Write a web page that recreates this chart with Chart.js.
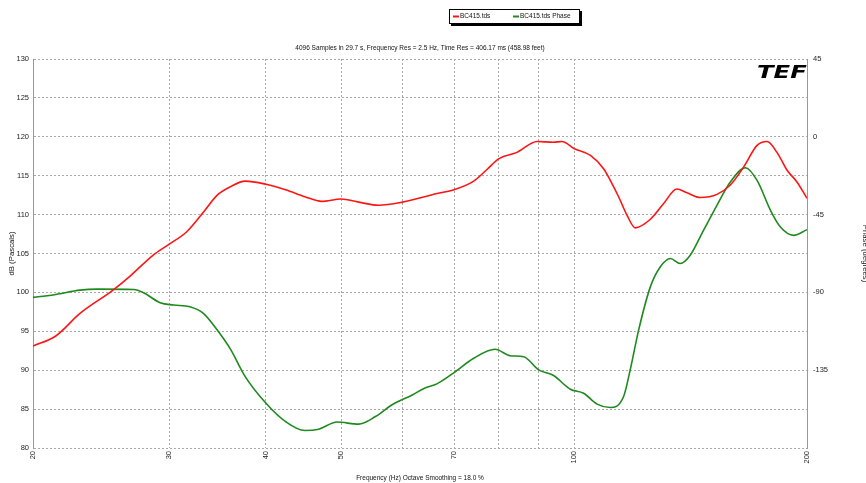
<!DOCTYPE html>
<html>
<head>
<meta charset="utf-8">
<script src="https://cdn.jsdelivr.net/npm/chart.js@4.4.0/dist/chart.umd.min.js"></script>
<style>
    html, body { margin: 0; padding: 0; background: #fff; }
    #wrap { position: relative; width: 866px; height: 483px; }
</style>
</head>
<body>
<div id="wrap"><canvas id="tefChart"></canvas></div>
<script>
// magnitude curve (Hz, dB)
const magFreqs = [20, 21.4, 23, 25.3, 26.7, 28.6, 30, 31.6, 33.2, 34.6,
    36, 37.6, 40, 42.4, 44.9, 47.2, 50, 52.7, 55.9, 60,
    64.1, 66.5, 70, 74.2, 77.2, 80, 84.4, 89.6, 94.1, 96.5,
    100, 105, 109.2, 111.4, 114.3, 117.1, 120, 125.5, 130.5, 135.8,
    140, 145.6, 153, 159.2, 165.6, 172.4, 177.6, 182.9, 188.5, 194.1, 200];
const magDb = [93.1, 94.4, 97.3, 100.2, 102.1, 104.8, 106.2, 107.8, 110.3, 112.5,
    113.6, 114.3, 113.9, 113.2, 112.3, 111.7, 112.0, 111.6, 111.2, 111.6,
    112.3, 112.7, 113.2, 114.3, 115.8, 117.2, 118.0, 119.4, 119.3, 119.4,
    118.5, 117.6, 115.9, 114.4, 112.2, 109.9, 108.3, 109.4, 111.4, 113.3,
    112.8, 112.2, 112.6, 113.8, 116.1, 118.9, 119.4, 118.0, 115.7, 114.2, 112.1];

// phase curve (Hz, degrees)
const phaseFreqs = [20, 21.4, 23, 24.2, 27, 27.8, 29.2, 30.4, 31.9, 33.2,
    34.6, 36, 37.6, 40, 42.4, 44.9, 46.8, 49.4, 52.7, 55.4,
    58.2, 61.8, 64.1, 66.5, 70, 74.2, 79.1, 82.7, 86.1, 90,
    94.1, 98.9, 102.9, 107.1, 111.4, 115.9, 118.2, 121.2, 125.5, 129.3,
    133.2, 137.2, 141.3, 147, 153, 159.2, 166.5, 172.4, 179.4, 184.8, 192.2, 200];
const phaseDeg = [-92.9, -91.2, -88.7, -88.1, -88.3, -90.2, -96, -97.3, -98.3, -102.1,
    -111.8, -123, -138.7, -154.1, -164.7, -169.9, -169.1, -165, -166.2, -161.8,
    -155, -149.3, -145.4, -142.9, -136.4, -128.1, -122.9, -126.6, -127.2, -134.8,
    -138.1, -146, -148.3, -154.6, -156.6, -150.2, -134.8, -111.8, -86.8, -75.2,
    -70.4, -73.3, -68.5, -54.1, -39.6, -26.2, -17.9, -25.2, -42.5, -52.2, -57, -53.7];

const seriesNames = ['BC415.tds', 'BC415.tds Phase'];
const xGridValues = [20, 30, 40, 50, 60, 70, 80, 90, 100, 200];
const xTickLabels = [20, 30, 40, 50, 70, 100, 200];
const phaseTicks = [45, 0, -45, -90, -135];
const headerText = '4096 Samples in 29.7 s, Frequency Res = 2.5 Hz, Time Res = 406.17 ms (458.98 feet)';
const xTitle = 'Frequency (Hz) Octave Smoothing = 18.0 %';

const FONT = 'Liberation Sans, Arial, sans-serif';
const gridColor = '#a9a9a9';

// legend box, header line and logo drawn on top of the canvas
const headerPlugin = {
    id: 'tefHeader',
    afterDraw(chart) {
        const ctx = chart.ctx;
        ctx.save();
        // legend frame with shadow
        ctx.fillStyle = '#000';
        ctx.fillRect(451, 11, 131, 15);
        ctx.fillStyle = '#fff';
        ctx.fillRect(449, 9, 131, 14);
        ctx.strokeStyle = '#000';
        ctx.lineWidth = 1;
        ctx.strokeRect(449.5, 9.5, 130, 14);

        const itemX = [453, 513];
        ctx.font = '6.5px ' + FONT;
        ctx.textBaseline = 'middle';
        chart.data.datasets.forEach((ds, i) => {
            ctx.strokeStyle = ds.borderColor;
            ctx.lineWidth = 2;
            ctx.beginPath();
            ctx.moveTo(itemX[i], 16.5);
            ctx.lineTo(itemX[i] + 6, 16.5);
            ctx.stroke();
            ctx.fillStyle = '#111';
            ctx.textAlign = 'left';
            ctx.fillText(ds.label, itemX[i] + 7, 16.5);
        });

        // header line
        ctx.fillStyle = '#111';
        ctx.textAlign = 'center';
        ctx.fillText(headerText, 420, 48);

        // TEF logo
        ctx.translate(757, 78);
        ctx.scale(1.35, 1);
        ctx.font = 'italic bold 18px DejaVu Sans';
        ctx.textAlign = 'left';
        ctx.textBaseline = 'alphabetic';
        ctx.fillStyle = '#000';
        ctx.fillText('TEF', 0, 0);
        ctx.restore();
    }
};

const ctx = document.getElementById('tefChart').getContext('2d');
const tefChart = new Chart(ctx, {
    type: 'line',
    data: {
        datasets: [{
            label: seriesNames[0],
            data: magFreqs.map((f, i) => ({ x: f, y: magDb[i] })),
            borderColor: 'rgb(255, 20, 20)',
            borderWidth: 1.6,
            pointRadius: 0,
            cubicInterpolationMode: 'monotone',
            yAxisID: 'y'
        }, {
            label: seriesNames[1],
            data: phaseFreqs.map((f, i) => ({ x: f, y: phaseDeg[i] })),
            borderColor: 'rgb(30, 138, 30)',
            borderWidth: 1.6,
            pointRadius: 0,
            cubicInterpolationMode: 'monotone',
            yAxisID: 'y2'
        }]
    },
    options: {
        responsive: true,
        maintainAspectRatio: false,
        animation: false,
        layout: { padding: { top: 59, left: 0, right: 0, bottom: 0 } },
        scales: {
            x: {
                type: 'logarithmic',
                min: 20,
                max: 200,
                afterBuildTicks: (scale) => {
                    scale.ticks = xGridValues.map(v => ({ value: v }));
                },
                afterFit: (scale) => { scale.height = 35; },
                ticks: {
                    autoSkip: false,
                    minRotation: 90,
                    maxRotation: 90,
                    padding: 3,
                    color: '#222',
                    font: { family: FONT, size: 7.5 },
                    callback: (value) => xTickLabels.includes(value) ? String(value) : ''
                },
                grid: { color: gridColor, drawTicks: false },
                border: { display: false, dash: [2, 2] },
                title: {
                    display: true,
                    text: xTitle,
                    color: '#111',
                    font: { family: FONT, size: 6.5 },
                    padding: { top: 0, bottom: 1 }
                }
            },
            y: {
                position: 'left',
                min: 80,
                max: 130,
                afterFit: (scale) => { scale.width = 33; },
                ticks: {
                    stepSize: 5,
                    padding: 4,
                    color: '#222',
                    font: { family: FONT, size: 7.5 }
                },
                grid: { color: gridColor, drawTicks: false },
                border: { display: true, color: '#999', dash: [2, 2] },
                title: {
                    display: true,
                    text: 'dB (Pascals)',
                    color: '#111',
                    font: { family: FONT, size: 7.8 },
                    padding: { top: 7.5, bottom: 0 }
                }
            },
            y2: {
                position: 'right',
                min: -180,
                max: 45,
                afterBuildTicks: (scale) => {
                    scale.ticks = phaseTicks.map(v => ({ value: v }));
                },
                afterFit: (scale) => { scale.width = 59; },
                ticks: {
                    padding: 6,
                    color: '#222',
                    font: { family: FONT, size: 7.5 }
                },
                grid: { drawOnChartArea: false, drawTicks: false },
                border: { display: true, color: '#999' },
                title: {
                    display: true,
                    text: 'Phase (degrees)',
                    color: '#111',
                    font: { family: FONT, size: 7.8 },
                    padding: { top: -4, bottom: 0 }
                }
            }
        },
        plugins: {
            legend: { display: false },
            tooltip: { enabled: false }
        }
    },
    plugins: [headerPlugin]
});
</script>
</body>
</html>
